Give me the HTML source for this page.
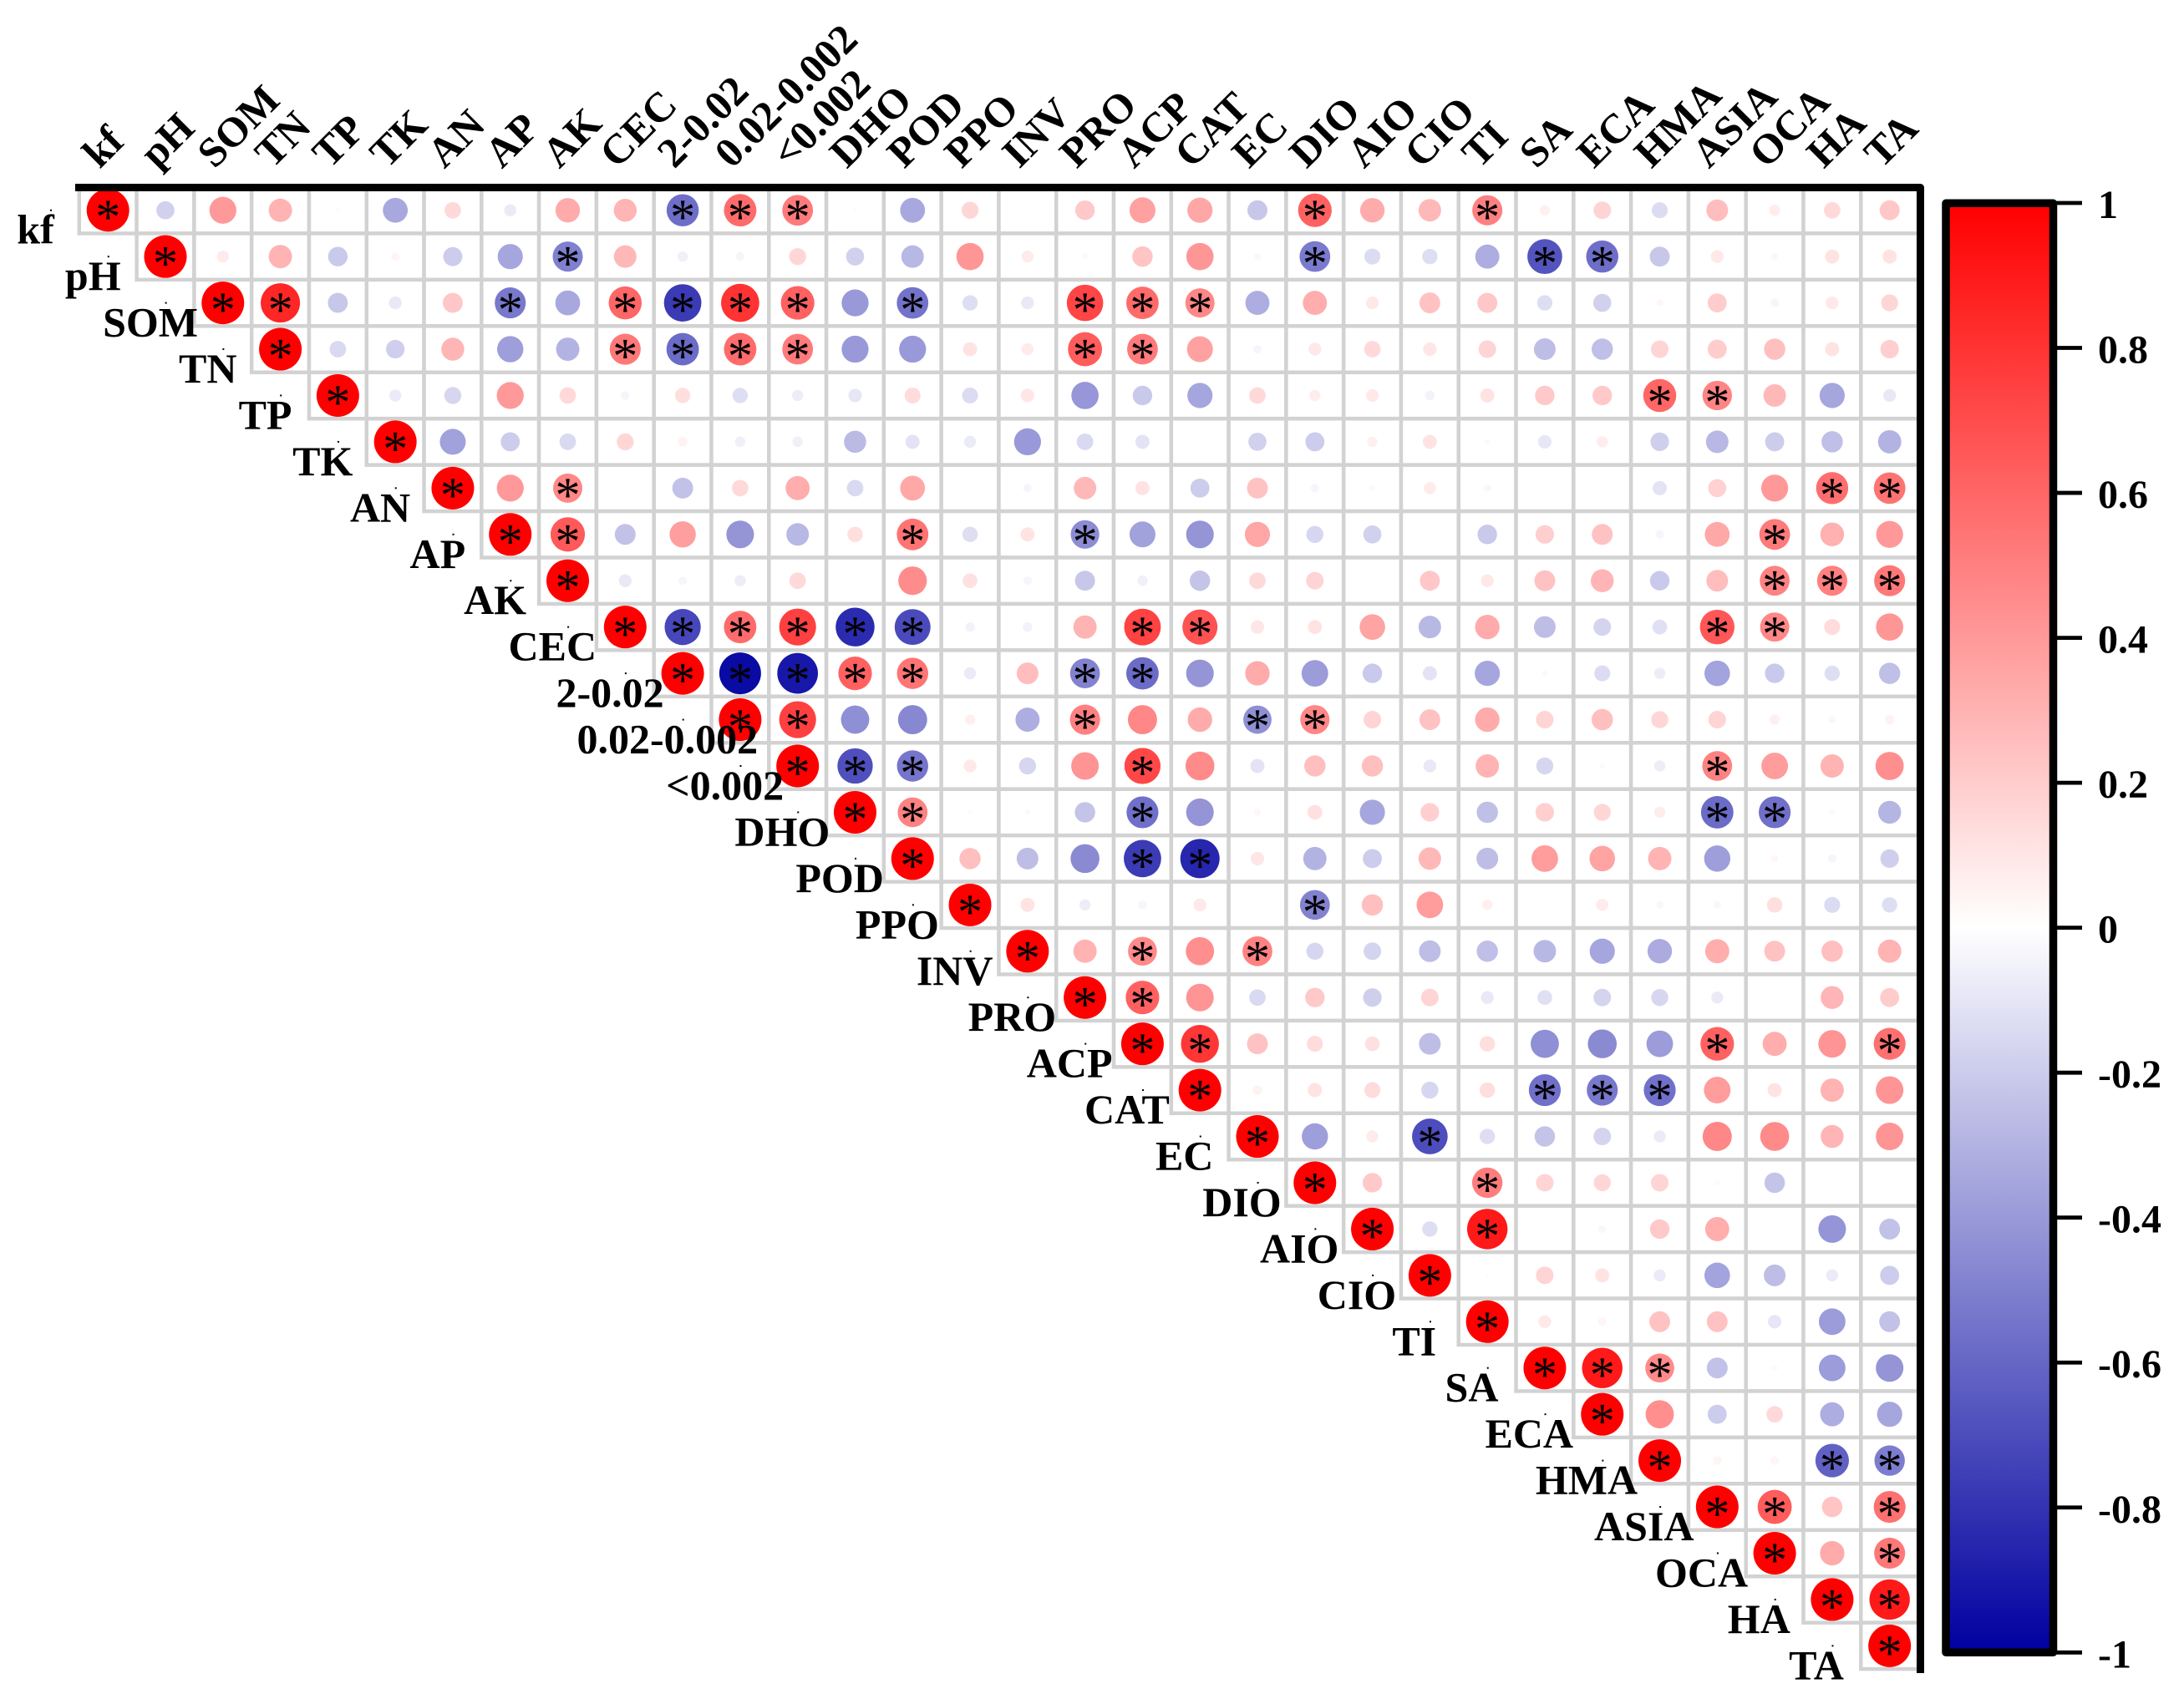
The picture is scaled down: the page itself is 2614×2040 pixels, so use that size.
<!DOCTYPE html>
<html lang="en">
<head>
<meta charset="utf-8">
<title>Correlation matrix</title>
<style>
html,body{margin:0;padding:0;background:#fff;}
svg{display:block;}
text{font-family:"Liberation Serif","Times New Roman",serif;fill:#000;}
</style>
</head>
<body>
<svg id="chart" xmlns="http://www.w3.org/2000/svg" width="2614" height="2040" viewBox="0 0 2614 2040">
  <rect x="0" y="0" width="2614" height="2040" fill="#ffffff"/>
  <g id="grid"></g>
  <g id="marks"></g>
  <g id="stars"></g>
  <path d="M90,224.5 H2298.5 V2003" fill="none" stroke="#000" stroke-width="9" stroke-linejoin="round"/>
  <g id="toplabels"></g>
  <g id="leftlabels"></g>
  <defs>
    <linearGradient id="cbgrad" x1="0" y1="0" x2="0" y2="1"></linearGradient>
  </defs>
  <g id="colorbar"></g>
</svg>
<script>
const categories = ["kf","pH","SOM","TN","TP","TK","AN","AP","AK","CEC","2-0.02","0.02-0.002","<0.002","DHO","POD","PPO","INV","PRO","ACP","CAT","EC","DIO","AIO","CIO","TI","SA","ECA","HMA","ASIA","OCA","HA","TA"];
const colorbarTicks = [1,0.8,0.6,0.4,0.2,0,-0.2,-0.4,-0.6,-0.8,-1];

/* upper-triangle correlations: each row starts at its diagonal cell */
const rowKf = [1,-.18,.40,.30,-.01,-.34,.15,-.08,.33,.29,-.57,.58,.52,-.01,-.34,.16,0,.21,.37,.35,-.22,.62,.33,.28,.50,.06,.17,-.14,.26,.07,.15,.22];
const rowPH = [1,.08,.30,-.21,.04,-.20,-.35,-.50,.28,-.06,-.04,.16,-.18,-.28,.41,.08,-.02,.23,.41,.03,-.52,-.14,-.13,-.32,-.67,-.57,-.22,.09,.03,.11,.11];
const rowSOM = [1,.85,-.22,-.09,.22,-.53,-.34,.60,-.77,.80,.62,-.40,-.55,-.13,-.09,.73,.58,.47,-.32,.32,.09,.24,.22,-.13,-.18,.03,.20,-.04,.09,.16];
const rowTN = [1,-.15,-.19,.29,-.38,-.30,.53,-.58,.58,.52,-.40,-.40,.11,.08,.64,.52,.37,-.04,.09,.15,.10,.17,-.26,-.25,.17,.20,.25,.11,.19];
const rowTP = [1,-.08,-.16,.40,.15,-.04,.13,-.13,-.07,-.10,.14,-.14,.10,-.41,-.21,-.35,.15,.07,.09,-.05,.11,.21,.21,.60,.48,.28,-.35,-.09];
const rowTK = [1,-.37,-.20,-.15,.16,.05,-.06,-.06,-.27,-.11,-.08,-.40,-.15,-.11,0,-.18,-.20,.06,.11,-.02,-.10,.07,-.19,-.28,-.20,-.25,-.30];
const rowAN = [1,.40,.47,0,-.24,.15,.32,-.15,.34,0,-.04,.28,.11,-.20,.24,-.04,-.02,.08,-.03,0,.01,-.11,.18,.40,.57,.55];
const rowAP = [1,.65,-.24,.38,-.42,-.28,.13,.55,-.13,.11,-.45,-.37,-.42,.35,-.16,-.18,0,-.21,.19,.24,-.04,.34,.52,.31,.40];
const rowAK = [1,-.09,-.04,-.07,.15,.005,.45,.12,-.04,-.22,-.06,-.23,.15,.17,.003,.22,.09,.24,.29,-.21,.26,.49,.50,.53];
const rowCEC = [1,-.72,.58,.75,-.83,-.71,-.05,-.05,.30,.74,.68,.10,.11,.36,-.28,.33,-.26,-.17,-.12,.66,.47,.14,.41];
const rowSand = [1,-.96,-.91,.62,.54,-.08,.26,-.49,-.58,-.42,.33,-.39,-.21,-.11,-.35,-.02,-.14,-.07,-.36,-.21,-.13,-.25];
const rowSilt = [1,.75,-.44,-.47,.06,-.32,.50,.47,.33,-.44,.47,.17,.24,.33,.17,.25,.16,.17,.06,-.03,.05];
const rowClay = [1,-.69,-.54,.09,-.16,.42,.72,.46,-.11,.25,.25,-.09,.30,-.16,.02,-.07,.49,.39,.30,.44];
const rowDHO = [1,.49,-.01,-.02,-.23,-.56,-.42,.03,.12,-.35,.19,-.25,.19,.16,.07,-.58,-.56,-.02,-.29];
const rowPOD = [1,.25,-.26,-.46,-.77,-.85,.10,-.30,-.20,.28,-.26,.39,.36,.30,-.38,.03,-.04,-.19];
const rowPPO = [1,.11,-.07,-.04,.09,0,-.49,.25,.39,.06,-.005,.08,-.03,-.03,.13,-.14,-.13];
const rowINV = [1,.30,.46,.44,.49,-.16,-.17,-.26,-.25,-.28,-.35,-.33,.32,.24,.25,.30];
const rowPRO = [1,.62,.42,-.15,.21,-.19,.17,-.09,-.12,-.17,-.16,-.08,0,.29,.20];
const rowACP = [1,.79,.24,.14,.12,-.26,.13,-.44,-.46,-.39,.62,.32,.42,.56];
const rowCAT = [1,.05,.11,.14,-.16,.13,-.56,-.53,-.56,.39,.11,.30,.42];
const rowEC = [1,-.38,.08,-.70,-.13,-.23,-.17,-.08,.47,.46,.29,.42];
const rowDIO = [1,.21,0,.51,.17,.16,.17,.02,-.23,0,0];
const rowAIO = [1,-.13,.90,0,-.03,.21,.32,0,-.42,-.24];
const rowCIO = [1,-.01,.17,.11,-.08,-.36,-.26,-.08,-.20];
const rowTI = [1,.09,.04,.24,.24,-.10,-.39,-.24];
const rowSA = [1,.90,.46,-.24,.02,-.39,-.42];
const rowECA = [1,.44,-.20,.15,-.32,-.35];
const rowHMA = [1,.04,.04,-.62,-.51];
const rowASIA = [1,.64,.23,.56];
const rowOCA = [1,.33,.53];
const rowHA = [1,.90];
const rowTA = [1];
const correlationRows = [rowKf,rowPH,rowSOM,rowTN,rowTP,rowTK,rowAN,rowAP,rowAK,rowCEC,rowSand,rowSilt,rowClay,rowDHO,rowPOD,rowPPO,rowINV,rowPRO,rowACP,rowCAT,rowEC,rowDIO,rowAIO,rowCIO,rowTI,rowSA,rowECA,rowHMA,rowASIA,rowOCA,rowHA,rowTA];

/* significant column indices per row */
const significantColumns = [
 [0,10,11,12,21,24],[1,8,21,25,26],[2,3,7,9,10,11,12,14,17,18,19],[3,9,10,11,12,17,18],
 [4,27,28],[5],[6,8,30,31],[7,8,14,17,29],[8,29,30,31],[9,10,11,12,13,14,18,19,28,29],
 [10,11,12,13,14,17,18],[11,12,17,20,21],[12,13,14,18,28],[13,14,18,28,29],[14,18,19],[15,21],
 [16,18,20],[17,18],[18,19,28,31],[19,25,26,27],[20,23],[21,24],[22,24],[23],[24],[25,26,27],
 [26],[27,30,31],[28,29,31],[29,31],[30,31],[31]
];

const NS = "http://www.w3.org/2000/svg";
const cellW = 68.79, cellH = 55.44;
const gridLeft = 94.8, gridTop = 224;
const maxRadius = 25.5;
function xScale(i){ return gridLeft + cellW * (i + 0.5); }
function yScale(k){ return gridTop + cellH * (k + 0.5); }
function radiusScale(v){ return maxRadius * Math.sqrt(Math.abs(v)); }
function colorScale(v){
  const t = Math.abs(v);
  if (v >= 0) {
    const c = Math.round(255 * (1 - t));
    return "rgb(255," + c + "," + c + ")";
  }
  const c = Math.round(255 * (1 - t));
  const b = Math.round(255 - 95 * t);
  return "rgb(" + c + "," + c + "," + b + ")";
}
function cbScale(v){ return 243 + (1 - v) / 2 * 1735.3; }
function make(tag, parent, attrs){
  const el = document.createElementNS(NS, tag);
  for (const key in attrs) el.setAttribute(key, attrs[key]);
  parent.appendChild(el);
  return el;
}

const gridG = document.getElementById("grid");
const marksG = document.getElementById("marks");
const starsG = document.getElementById("stars");
const topG = document.getElementById("toplabels");
const leftG = document.getElementById("leftlabels");
const barG = document.getElementById("colorbar");

correlationRows.forEach(function(row, k){
  row.forEach(function(value, offset){
    const i = k + offset;
    const cell = make("rect", gridG, {x:gridLeft + i*cellW, y:gridTop + k*cellH, width:cellW, height:cellH, fill:"#fff", stroke:"#d2d2d2", "stroke-width":4.5});
    
    
    if (value !== 0) {
      const mark = make("circle", marksG, {cx:xScale(i), cy:yScale(k), r:radiusScale(value), fill:colorScale(value)});
      
      
    }
  });
});

significantColumns.forEach(function(cols, k){
  cols.forEach(function(i){
    const star = make("text", starsG, {x:xScale(i), y:yScale(k) + 28.5, "text-anchor":"middle", "font-size":60});
    star.textContent = "*";
    
    
  });
});

categories.forEach(function(name, i){
  const ox = xScale(i) - 10, oy = 203;
  const topLabel = make("text", topG, {x:ox, y:oy, "font-size":50, "font-weight":"bold", transform:"rotate(-45 " + ox + " " + oy + ")"});
  topLabel.textContent = name;
  
  

  const cy = yScale(i);
  const leftLabel = make("text", leftG, {x:42.5 + 68.76*i, y:cy + 40, "font-size":50, "font-weight":"bold", "text-anchor":"middle"});
  leftLabel.textContent = name;
  
  

  const speck = make("rect", leftG, {x:60 + 68.79*i, y:cy - 1, width:2, height:2, fill:"#000"});
  
  
});

const grad = document.getElementById("cbgrad");
colorbarTicks.forEach(function(v){
  make("stop", grad, {offset:((1 - v) / 2 * 100) + "%", "stop-color":colorScale(v)});
});
const barBox = make("rect", barG, {x:2329, y:243.3, width:128.5, height:1735, fill:"url(#cbgrad)", stroke:"#000", "stroke-width":9.5, "stroke-linejoin":"round"});


colorbarTicks.forEach(function(v){
  const y = cbScale(v);
  const tick = make("line", barG, {x1:2460, x2:2492, y1:y, y2:y, stroke:"#000", "stroke-width":4.8});
  
  
  const lab = make("text", barG, {x:2511, y:y + 18, "font-size":48, "font-weight":"bold"});
  lab.textContent = String(v);
  
  
});
</script>
</body>
</html>
